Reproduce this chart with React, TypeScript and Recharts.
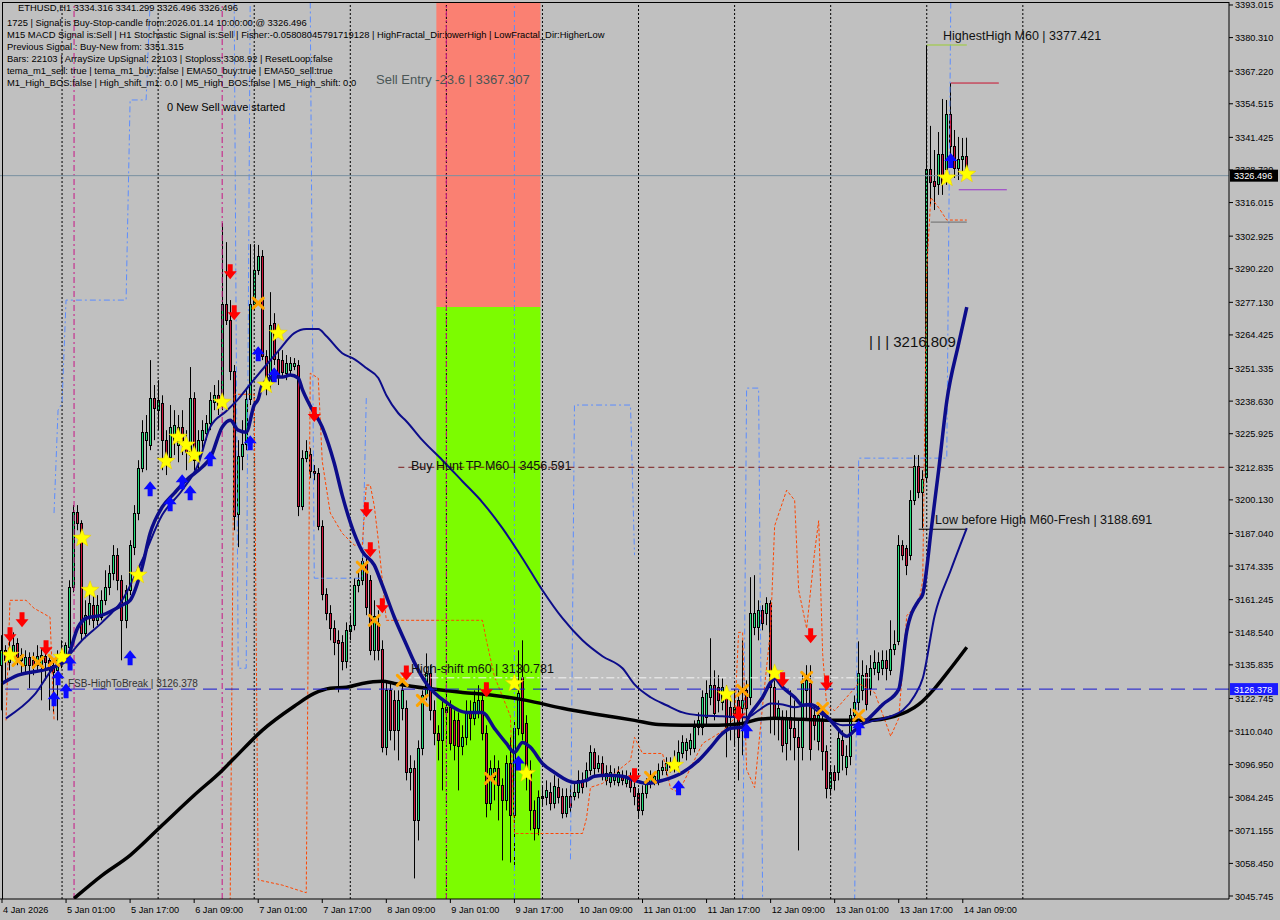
import React from 'react';
import { ComposedChart, Bar, Line, XAxis, YAxis, ReferenceLine, ReferenceArea } from 'recharts';

// hourly candles from 4 Jan 09:00 to 14 Jan 10:00, [open, high, low, close]
const candles: number[][] = [
  [3135.7,3147.4,3118.1,3141.5],[3141.5,3143.5,3129.8,3137.6],[3136.8,3145.4,3133.7,3140.7],[3140.7,3148.5,3137.6,3143.5],
  [3144.2,3146.2,3135.7,3138.8],[3137.6,3142.3,3131.8,3139.6],[3135.7,3141.5,3132.9,3138.8],[3138.8,3140.7,3126.7,3135.7],
  [3137.6,3140.7,3131.8,3134.9],[3135.7,3143.5,3133.7,3139.2],[3135.3,3142.3,3122.0,3139.6],[3139.2,3141.5,3129.8,3136.8],
  [3137.6,3139.6,3118.1,3134.5],[3135.7,3138.4,3117.3,3132.9],[3133.7,3141.5,3114.2,3138.4],[3137.6,3145.4,3134.5,3140.7],
  [3138.8,3144.6,3136.8,3143.5],[3142.7,3168.8,3141.5,3166.1],[3166.1,3198.1,3164.1,3195.3],[3195.3,3198.1,3188.3,3191.0],
  [3191.0,3192.2,3145.4,3148.1],[3148.1,3161.0,3146.2,3155.2],[3154.0,3164.9,3151.3,3159.8],[3159.1,3163.0,3150.1,3153.2],
  [3153.2,3163.0,3151.3,3159.1],[3154.4,3164.9,3153.2,3161.0],[3161.0,3172.7,3159.1,3166.1],[3166.1,3174.7,3163.0,3171.5],
  [3171.5,3182.5,3168.8,3178.6],[3178.6,3181.3,3164.9,3168.8],[3168.8,3170.8,3137.6,3153.2],[3153.2,3166.9,3150.1,3164.9],
  [3164.9,3184.4,3163.0,3182.5],[3181.7,3198.1,3178.6,3194.9],[3194.9,3215.6,3192.2,3212.5],[3212.5,3231.2,3210.9,3226.5],
  [3223.4,3233.2,3211.7,3226.5],[3221.5,3254.6,3219.5,3239.8],[3239.8,3244.9,3223.4,3235.9],[3235.1,3246.8,3227.3,3239.0],
  [3237.8,3240.9,3211.7,3223.4],[3223.4,3227.3,3209.8,3217.6],[3216.8,3237.1,3214.8,3228.5],[3223.4,3235.1,3217.6,3229.3],
  [3221.5,3233.2,3214.8,3228.5],[3228.5,3235.1,3217.6,3223.4],[3223.4,3227.3,3211.7,3218.7],[3217.6,3251.9,3215.6,3239.8],
  [3239.8,3242.1,3211.7,3215.6],[3215.6,3227.3,3211.7,3223.4],[3223.4,3231.2,3219.5,3227.3],[3226.1,3233.2,3223.4,3230.0],
  [3230.0,3242.1,3227.3,3239.0],[3238.2,3244.9,3235.1,3240.9],[3240.9,3246.8,3233.2,3237.1],[3236.7,3308.0,3235.1,3276.4],
  [3276.4,3300.6,3268.3,3270.2],[3270.2,3278.0,3246.8,3250.3],[3250.3,3252.7,3188.3,3193.8],[3194.5,3223.4,3181.7,3217.2],
  [3217.2,3231.2,3211.7,3221.8],[3221.8,3242.9,3219.5,3239.4],[3239.4,3299.8,3237.1,3276.4],[3276.4,3299.8,3274.1,3289.7],
  [3289.7,3299.5,3287.8,3295.2],[3295.2,3297.5,3254.6,3256.2],[3256.2,3258.5,3240.9,3246.0],[3246.0,3281.1,3242.9,3268.3],
  [3269.0,3272.9,3252.7,3255.0],[3255.0,3258.5,3244.9,3248.8],[3254.6,3258.5,3247.6,3249.9],[3249.5,3256.6,3246.8,3253.4],
  [3250.7,3255.8,3248.8,3253.4],[3252.3,3255.4,3250.7,3253.4],[3252.7,3254.6,3193.8,3197.7],[3197.7,3219.5,3196.1,3216.4],
  [3216.4,3223.4,3214.8,3219.1],[3217.9,3220.3,3208.6,3211.3],[3211.3,3213.7,3207.8,3210.5],[3210.5,3212.5,3188.3,3189.9],
  [3189.9,3192.2,3161.0,3163.3],[3163.3,3165.7,3153.2,3155.9],[3155.9,3159.1,3145.4,3150.1],[3150.1,3153.2,3139.6,3144.6],
  [3145.4,3149.3,3125.1,3144.2],[3144.6,3147.4,3133.7,3137.2],[3137.2,3152.4,3134.5,3149.3],[3148.9,3155.2,3145.4,3151.3],
  [3151.3,3169.6,3149.3,3166.9],[3166.9,3172.7,3164.1,3168.8],[3168.8,3180.1,3166.9,3176.2],[3175.0,3177.4,3155.2,3158.3],
  [3168.8,3170.8,3139.6,3141.5],[3141.5,3161.0,3137.6,3154.8],[3152.0,3157.1,3137.6,3141.5],[3141.9,3145.4,3101.7,3103.7],
  [3103.7,3129.8,3100.6,3125.9],[3125.9,3128.6,3106.4,3110.3],[3122.0,3125.9,3102.5,3110.3],[3110.3,3125.9,3098.6,3122.0],
  [3118.9,3129.8,3114.2,3125.9],[3118.9,3122.0,3090.8,3093.9],[3093.9,3100.6,3086.9,3095.5],[3095.5,3098.6,3052.6,3075.2],
  [3075.2,3106.4,3067.4,3103.3],[3103.3,3125.9,3100.6,3123.9],[3123.9,3140.3,3122.0,3132.5],[3132.5,3135.7,3114.2,3118.1],
  [3118.1,3122.0,3104.5,3109.1],[3109.1,3112.3,3098.6,3106.4],[3106.4,3122.0,3086.9,3118.9],[3117.3,3125.9,3106.4,3119.3],
  [3119.3,3122.0,3102.5,3105.2],[3114.2,3118.1,3098.6,3104.5],[3114.2,3117.3,3086.9,3104.1],[3104.1,3112.3,3100.6,3107.6],
  [3107.6,3122.0,3104.5,3117.3],[3117.3,3122.0,3106.4,3115.0],[3115.0,3125.9,3112.3,3121.2],[3117.3,3127.9,3115.0,3122.0],
  [3122.0,3124.7,3106.4,3109.1],[3109.1,3112.3,3076.4,3081.8],[3081.8,3098.6,3079.1,3095.5],[3092.0,3100.6,3083.0,3095.5],
  [3095.5,3098.6,3075.2,3088.9],[3088.9,3091.6,3059.6,3083.0],[3083.0,3100.6,3079.1,3097.4],[3097.4,3107.6,3058.8,3077.2],
  [3077.2,3114.2,3056.9,3111.1],[3111.1,3141.5,3108.4,3124.7],[3131.0,3145.4,3106.4,3109.1],[3113.0,3116.2,3086.9,3094.7],
  [3094.7,3098.6,3071.3,3079.1],[3079.1,3083.0,3067.4,3072.1],[3072.1,3086.9,3069.4,3084.2],[3083.8,3088.9,3081.1,3084.9],
  [3084.2,3090.8,3081.1,3086.9],[3086.1,3090.0,3079.1,3081.8],[3081.8,3092.8,3079.9,3088.5],[3088.1,3091.6,3081.8,3084.2],
  [3084.9,3087.7,3076.0,3077.9],[3077.9,3087.7,3076.4,3084.9],[3084.9,3088.9,3078.3,3080.3],[3084.9,3090.0,3083.0,3086.1],
  [3086.1,3094.7,3083.8,3090.8],[3090.8,3093.9,3085.7,3088.1],[3090.8,3097.8,3088.1,3094.7],[3094.7,3104.5,3092.8,3101.7],
  [3101.7,3103.3,3092.8,3095.5],[3095.5,3100.6,3093.9,3097.4],[3097.4,3100.2,3090.8,3092.8],[3090.8,3096.7,3088.9,3093.5],
  [3090.0,3096.7,3088.1,3093.9],[3090.8,3095.5,3088.9,3093.1],[3090.0,3096.3,3088.5,3093.9],[3092.8,3094.7,3088.9,3090.8],
  [3089.6,3094.7,3088.1,3092.0],[3091.6,3093.9,3086.1,3088.1],[3088.1,3090.8,3081.1,3084.9],[3085.7,3087.7,3076.4,3079.1],
  [3079.1,3088.9,3077.2,3085.7],[3085.7,3091.6,3083.8,3089.6],[3089.6,3094.7,3087.7,3092.8],[3090.8,3093.9,3088.9,3092.4],
  [3090.8,3097.4,3088.9,3094.7],[3094.7,3098.6,3092.8,3095.9],[3094.7,3099.8,3092.8,3097.4],[3097.8,3099.8,3093.9,3095.9],
  [3095.9,3102.5,3093.9,3098.6],[3097.8,3106.4,3095.5,3101.7],[3101.3,3108.4,3099.4,3105.6],[3102.5,3107.2,3098.6,3105.6],
  [3103.3,3109.1,3100.6,3106.4],[3103.3,3114.2,3101.7,3111.5],[3111.5,3117.3,3108.4,3114.2],[3111.5,3125.9,3108.4,3123.2],
  [3115.4,3129.8,3112.3,3124.7],[3123.2,3146.2,3120.1,3127.9],[3127.9,3133.7,3114.2,3116.9],[3127.1,3131.8,3117.3,3122.0],
  [3121.2,3130.6,3118.1,3127.1],[3124.7,3127.9,3099.8,3111.5],[3119.3,3123.9,3106.4,3115.4],[3115.4,3125.9,3104.5,3119.3],
  [3122.0,3125.9,3090.8,3107.6],[3118.9,3145.4,3100.6,3122.0],[3125.9,3129.8,3114.2,3118.9],[3123.2,3170.0,3120.1,3155.9],
  [3150.5,3170.8,3147.4,3155.9],[3150.5,3161.0,3145.4,3157.1],[3157.1,3159.1,3149.3,3152.0],[3155.9,3162.2,3151.3,3159.8],
  [3159.8,3161.0,3109.1,3127.1],[3127.1,3129.8,3108.4,3115.0],[3115.0,3122.0,3106.4,3118.9],[3115.0,3118.1,3101.7,3104.5],
  [3105.2,3118.1,3098.6,3115.4],[3115.4,3125.9,3102.5,3111.1],[3111.1,3122.0,3098.6,3107.6],[3107.6,3114.2,3063.5,3103.7],
  [3103.7,3131.8,3098.6,3128.6],[3125.9,3135.7,3114.2,3129.8],[3128.6,3135.7,3098.6,3102.9],[3116.2,3120.1,3106.4,3112.3],
  [3106.0,3120.1,3102.5,3116.2],[3114.2,3117.3,3094.7,3102.1],[3102.1,3104.5,3083.8,3087.7],[3087.7,3096.7,3084.9,3093.9],
  [3093.9,3096.7,3086.9,3090.8],[3093.9,3110.3,3090.8,3107.2],[3106.4,3110.3,3094.7,3100.6],[3095.9,3104.5,3092.8,3100.2],
  [3100.2,3118.9,3096.7,3116.2],[3116.2,3123.9,3114.2,3121.2],[3121.2,3145.0,3118.1,3132.5],[3125.9,3137.6,3122.0,3131.8],
  [3132.5,3135.7,3118.1,3120.4],[3126.7,3139.6,3123.9,3134.5],[3134.5,3141.5,3131.8,3136.8],[3132.9,3140.7,3129.8,3136.8],
  [3134.5,3141.5,3131.8,3137.6],[3137.6,3141.5,3129.8,3134.5],[3133.7,3153.2,3131.8,3141.9],[3141.9,3149.3,3139.6,3143.8],
  [3145.0,3186.4,3143.5,3182.5],[3182.5,3184.4,3176.6,3178.6],[3181.3,3182.5,3170.8,3174.7],[3178.6,3203.9,3176.6,3200.0],
  [3200.0,3217.6,3198.1,3213.3],[3213.3,3217.6,3200.8,3203.1],[3203.1,3211.7,3189.1,3208.2],[3209.0,3377.4,3207.0,3329.1],
  [3329.1,3345.9,3315.1,3324.0],[3324.4,3336.5,3313.1,3322.5],[3323.2,3343.5,3319.0,3334.9],[3334.9,3356.4,3319.0,3323.6],
  [3329.1,3356.0,3322.9,3350.5],[3350.5,3362.6,3332.6,3338.1],[3338.1,3344.3,3325.6,3329.5],[3329.5,3341.6,3324.8,3333.0],
  [3333.0,3341.2,3326.8,3334.2],[3334.316,3341.299,3326.496,3326.496],
];

// moving averages, [bar index, value]
const fastMa = [
  [0,3128.6],[4,3131.8],[10,3133.7],[12,3134.5],[16,3137.6],[19,3150.5],[21,3154.0],[25,3155.2],[30,3159.1],[32,3161.0],
  [35,3173.9],[37,3187.1],[40,3197.3],[43,3202.7],[46,3207.8],[50,3212.9],[52,3216.4],[55,3228.5],[57,3231.2],[59,3227.3],
  [61,3226.5],[63,3237.1],[64,3239.4],[65,3244.9],[68,3248.0],[70,3248.0],[72,3248.8],[74,3247.6],[75,3243.3],[77,3236.7],
  [80,3228.5],[83,3214.4],[85,3201.9],[88,3187.0],[90,3180.1],[93,3174.7],[95,3166.9],[98,3154.4],[101,3143.8],[103,3136.8],
  [106,3128.6],[111,3121.2],[116,3117.3],[120,3117.3],[123,3111.1],[126,3105.2],[128,3101.7],[130,3105.6],[132,3103.7],
  [135,3097.4],[138,3093.9],[143,3090.0],[146,3090.8],[148,3092.4],[151,3092.8],[155,3092.4],[158,3090.8],[161,3089.6],
  [165,3090.8],[170,3093.9],[174,3098.6],[177,3103.7],[180,3109.1],[182,3111.1],[185,3111.5],[187,3116.9],[190,3123.2],
  [192,3129.0],[193,3130.6],[195,3127.1],[198,3123.2],[200,3120.1],[202,3120.4],[205,3117.3],[208,3112.3],[211,3108.0],
  [213,3110.3],[216,3114.2],[220,3120.4],[224,3126.3],[226,3148.9],[229,3161.0],[230,3163.3],[231,3173.5],[232,3187.1],
  [234,3212.1],[236,3238.6],[239,3261.2],[241,3275.3],
];
const midMa = [
  [1,3115.0],[8,3124.0],[13,3134.9],[16,3138.4],[20,3145.4],[25,3152.4],[30,3161.0],[35,3176.6],[40,3194.2],[45,3203.9],
  [49,3214.0],[52,3228.5],[56,3234.7],[59,3239.4],[62,3245.2],[66,3252.7],[69,3258.1],[73,3265.1],[76,3266.7],[79,3266.7],
  [81,3264.0],[85,3257.3],[88,3255.0],[91,3251.5],[94,3247.6],[96,3240.9],[99,3233.9],[101,3230.8],[105,3223.4],[110,3215.6],
  [115,3207.4],[120,3199.2],[125,3189.1],[130,3177.4],[135,3164.9],[140,3154.0],[145,3145.4],[150,3139.2],[155,3134.5],
  [158,3128.2],[162,3123.2],[166,3120.1],[170,3117.3],[174,3116.2],[180,3115.8],[186,3115.4],[189,3118.1],[192,3120.8],
  [195,3120.4],[198,3119.3],[201,3120.1],[205,3116.2],[210,3112.3],[214,3112.6],[218,3114.2],[222,3115.8],[225,3118.1],
  [228,3123.9],[230,3130.6],[233,3155.2],[237,3172.7],[241,3189.1],
];
const slowMa = [
  [18,3044.8],[25,3053.8],[32,3061.6],[40,3073.3],[48,3085.0],[55,3094.7],[58,3099.4],[65,3110.3],[73,3119.7],[78,3124.7],
  [82,3126.7],[86,3127.1],[90,3128.6],[95,3129.4],[98,3128.6],[106,3126.7],[115,3125.1],[123,3123.9],[131,3122.0],
  [140,3118.9],[150,3116.2],[158,3114.2],[164,3112.6],[170,3112.3],[179,3112.3],[185,3113.0],[189,3114.6],[193,3115.0],
  [200,3114.6],[208,3114.2],[216,3114.2],[223,3115.8],[229,3120.4],[233,3126.7],[237,3134.5],[241,3142.7],
];

// trailing channel (orange dashed) and fractal channel (blue dash-dot) pieces, [bar index, value]
const trailA = [[1,3114.2],[2,3161.0],[6,3161.0],[8,3157.9],[12,3154.4],[13,3114.2]];
const trailB = [
  [57,3044.0],[58,3241.3],[63,3241.3],[64,3052.0],[70,3050.0],[76,3047.0],[77,3249.5],[79,3247.6],[80,3215.2],[82,3195.0],
  [85,3187.1],[88,3182.5],[90,3182.5],[91,3205.9],[92,3205.9],[93,3197.7],[94,3184.4],[96,3153.2],[120,3153.2],[121,3145.4],
  [123,3131.4],[127,3115.8],[128,3070.1],[145,3070.1],[146,3076.0],[147,3088.1],[150,3089.6],[157,3098.6],[158,3107.6],
  [160,3101.3],[165,3101.3],[167,3087.7],[169,3086.1],[175,3105.2],[180,3110.0],[183,3115.0],[184,3148.5],[185,3148.5],
  [186,3095.0],[188,3088.0],[190,3120.0],[192,3150.0],[193,3190.0],[196,3203.9],[198,3200.0],[199,3165.0],[201,3150.0],
  [203,3180.0],[204,3192.0],[205,3140.0],[206,3120.0],[208,3118.0],[212,3125.0],[214,3128.6],[218,3125.0],[222,3108.0],
  [224,3115.0],[226,3155.0],[229,3160.0],[230,3168.8],[231,3290.0],[232,3318.0],[234,3314.0],[236,3309.2],[241,3309.2],
];
const fractalA = [[13,3195.0],[14,3235.1],[15,3237.8],[16,3278.0],[31,3278.0],[32,3356.0],[36,3356.0],[37,3394.0]];
const fractalB = [[58,3394.0],[59,3134.5],[61,3134.5],[62,3394.0]];
const fractalC = [[77,3394.0],[78,3169.6],[90,3169.6],[91,3240.0]];
const fractalD = [[142,3060.0],[143,3237.1],[157,3237.1],[158,3178.6]];
const fractalE = [[185,3044.0],[186,3243.7],[189,3243.7],[190,3044.0]];
const fractalF = [[213,3044.0],[214,3216.4],[236,3216.4],[237,3394.0]];

// signal markers, [bar index, price]
const sellArrows = [
  [2,3147.4],[5,3153.2],[11,3142.3],[57,3288.9],[58,3272.9],[78,3233.2],[91,3196.1],[92,3180.5],[95,3158.7],[101,3132.5],
  [121,3125.9],[158,3092.4],[184,3116.5],[195,3129.8],[202,3147.0],[206,3128.6],
];
const buyArrows = [
  [13,3122.8],[14,3131.0],[16,3125.9],[17,3136.8],[32,3138.8],[37,3204.7],[42,3198.8],[45,3207.4],[47,3203.1],[52,3216.4],
  [62,3222.6],[64,3257.3],[68,3249.1],[129,3097.8],[169,3088.1],[186,3110.3],[214,3111.5],[237,3332.6],
];
const stars = [
  [2,3139.6],[15,3138.8],[20,3185.2],[22,3164.9],[34,3170.8],[41,3215.2],[44,3224.6],[46,3221.5],[48,3217.6],[55,3238.2],
  [66,3244.9],[69,3265.1],[128,3128.6],[131,3093.5],[168,3096.7],[181,3124.3],[193,3132.5],[236,3325.6],[241,3327.1],
];
const crosses = [
  [4,3137.6],[9,3136.8],[13,3137.6],[64,3276.8],[90,3173.9],[93,3153.2],[100,3129.8],[105,3122.0],[122,3091.6],
  [162,3092.0],[185,3125.9],[201,3131.0],[205,3118.9],[214,3116.2],
];

const timeLabels = [
  '4 Jan 2026', '5 Jan 01:00', '5 Jan 17:00', '6 Jan 09:00', '7 Jan 01:00', '7 Jan 17:00', '8 Jan 09:00', '9 Jan 01:00',
  '9 Jan 17:00', '10 Jan 09:00', '11 Jan 01:00', '11 Jan 17:00', '12 Jan 09:00', '13 Jan 01:00', '13 Jan 17:00', '14 Jan 09:00',
];
const priceTicks = [
  3393.015, 3380.31, 3367.22, 3354.515, 3341.425, 3328.72, 3316.015, 3302.925, 3290.22, 3277.13, 3264.425, 3251.335,
  3238.63, 3225.925, 3212.835, 3200.13, 3187.04, 3174.335, 3161.245, 3148.54, 3135.835, 3122.745, 3110.04, 3096.95,
  3084.245, 3071.155, 3058.45, 3045.745,
];
const daySeparators = [15, 39, 63, 87, 111, 135, 159, 183, 207, 231, 255];
const magentaLines = [18, 55, 111];

const SLOTS = 307;
const Y_MIN = 3044.576;
const Y_MAX = 3394.184;
const BULL = '#22dd7a';
const BEAR = '#d0123a';
const ORANGE = '#ff4500';
const SKY = '#5b8cff';

const rows: any[] = Array.from({ length: SLOTS }, (_, i) => {
  const k = candles[i];
  return k
    ? { i, o: k[0], h: k[1], l: k[2], c: k[3], range: [k[2], k[1]] }
    : { i, range: null };
});
const put = (list: number[][], key: string) => list.forEach(([i, v]) => { rows[i][key] = v; });
put(fastMa, 'fast');
put(midMa, 'mid');
put(slowMa, 'slow');
put(sellArrows, 'sell');
put(buyArrows, 'buy');
put(stars, 'star');
put(crosses, 'cross');
const trails: [string, number[][]][] = [['trA', trailA], ['trB', trailB]];
const fractals: [string, number[][]][] = [
  ['frA', fractalA], ['frB', fractalB], ['frC', fractalC], ['frD', fractalD], ['frE', fractalE], ['frF', fractalF],
];
trails.forEach(([k, list]) => put(list, k));
fractals.forEach(([k, list]) => put(list, k));

function Candle(props: any) {
  const { x, y, width, height, payload } = props;
  if (!payload || payload.o == null) return <g />;
  const { o, h, l, c } = payload;
  const top = Math.min(y, y + height);
  const span = Math.abs(height);
  const k = span / (h - l || 1);
  const px = Math.floor(x + width / 2);
  const yo = top + (h - o) * k;
  const yc = top + (h - c) * k;
  const bTop = Math.round(Math.min(yo, yc)) + 0.5;
  const bBot = Math.round(Math.max(yo, yc)) + 0.5;
  return (
    <g>
      <line x1={px + 0.5} x2={px + 0.5} y1={top} y2={top + span} stroke="#000" strokeWidth={1} />
      <rect x={px - 0.5} y={bTop} width={2} height={Math.max(bBot - bTop, 1)}
        fill={c >= o ? BULL : BEAR} stroke="#000" strokeWidth={1} />
    </g>
  );
}

const starPath = (cx: number, cy: number) => {
  const pts: string[] = [];
  for (let n = 0; n < 10; n++) {
    const r = n % 2 === 0 ? 9.5 : 4;
    const a = -Math.PI / 2 + (n * Math.PI) / 5;
    pts.push(`${(cx + r * Math.cos(a)).toFixed(1)},${(cy + r * Math.sin(a)).toFixed(1)}`);
  }
  return 'M' + pts.join('L') + 'Z';
};

const marker = (kind: string) => (props: any) => {
  const { cx, cy, payload, index } = props;
  const key = `${kind}-${index}`;
  if (!payload || payload[kind] == null || cx == null || cy == null) return <g key={key} />;
  if (kind === 'sell') {
    return (
      <path key={key} fill="#ff0000"
        d={`M${cx - 2.5},${cy - 8}L${cx + 2.5},${cy - 8}L${cx + 2.5},${cy - 1}L${cx + 6.5},${cy - 1}L${cx},${cy + 7}L${cx - 6.5},${cy - 1}L${cx - 2.5},${cy - 1}Z`} />
    );
  }
  if (kind === 'buy') {
    return (
      <path key={key} fill="#0a0aff"
        d={`M${cx - 2.5},${cy + 8}L${cx + 2.5},${cy + 8}L${cx + 2.5},${cy + 1}L${cx + 6.5},${cy + 1}L${cx},${cy - 7}L${cx - 6.5},${cy + 1}L${cx - 2.5},${cy + 1}Z`} />
    );
  }
  if (kind === 'star') {
    return <path key={key} d={starPath(cx, cy)} fill="#ffff00" stroke="#e8c800" strokeWidth={0.5} />;
  }
  return (
    <g key={key} stroke="#ffa500" strokeWidth={3} strokeLinecap="round">
      <line x1={cx - 5} y1={cy - 5} x2={cx + 5} y2={cy + 5} />
      <line x1={cx - 5} y1={cy + 5} x2={cx + 5} y2={cy - 5} />
    </g>
  );
};

const TimeTick = (props: any) => {
  const { x, y, payload } = props;
  const label = timeLabels[Math.round(payload.value / 16)];
  return (
    <g>
      <line x1={x} x2={x} y1={y} y2={y + 4} stroke="#000" />
      <text x={x + 1} y={y + 14} fontSize={9.2} fill="#000" textAnchor="start">{label}</text>
    </g>
  );
};

const PriceTick = (props: any) => {
  const { x, y, payload } = props;
  return (
    <text x={x} y={y + 3.5} fontSize={9.2} fill="#000" textAnchor="start">{payload.value.toFixed(3)}</text>
  );
};

const priceBox = (text: string, bg: string) => (props: any) => {
  const vb = props.viewBox || {};
  const x = vb.x + vb.width + 1;
  return (
    <g>
      <rect x={x} y={vb.y - 6} width={48} height={12} fill={bg} />
      <text x={x + 4} y={vb.y + 3.5} fontSize={9.2} fill="#fff">{text}</text>
    </g>
  );
};

const header = [
  '1725 | Signal is Buy-Stop-candle from:2026.01.14 10:00:00 @ 3326.496',
  'M15 MACD Signal is:Sell | H1 Stochastic Signal is:Sell | Fisher:-0.05808045791719128 | HighFractal_Dir:lowerHigh | LowFractal_Dir:HigherLow',
  'Previous Signal : Buy-New from: 3351.315',
  'Bars: 22103 | ArraySize UpSignal: 22103 | Stoploss:3308.92 | ResetLoop:false',
  'tema_m1_sell: true | tema_m1_buy: false | EMA50_buy:true | EMA50_sell:true',
  'M1_High_BOS:false | High_shift_m1: 0.0 | M5_High_BOS:false | M5_High_shift: 0.0',
];

export default function App() {
  return (
    <div style={{ position: 'absolute', left: 0, top: 0, width: 1280, height: 920, background: '#c0c0c0',
      fontFamily: '"Liberation Sans", Arial, sans-serif' }}>
      <ComposedChart width={1280} height={920} data={rows} margin={{ top: 2, right: 0, bottom: 0, left: 0 }}>
        <XAxis dataKey="i" type="category" ticks={timeLabels.map((_, n) => n * 16)} interval={0} height={21}
          axisLine={{ stroke: '#000' }} tickLine={false} tickSize={0} tickMargin={0} tick={<TimeTick />} />
        <YAxis orientation="right" type="number" domain={[Y_MIN, Y_MAX]} allowDataOverflow ticks={priceTicks}
          interval={0} width={51} axisLine={{ stroke: '#000' }} tickLine={{ stroke: '#000' }} tickSize={4}
          tickMargin={2} tick={<PriceTick />} />

        <ReferenceArea x1={109} x2={134} y1={3275.3} y2={Y_MAX} fill="#fa8072" fillOpacity={1} stroke="none" />
        <ReferenceArea x1={109} x2={134} y1={Y_MIN} y2={3275.3} fill="#7cfc00" fillOpacity={1} stroke="none" />

        {daySeparators.map((d) => (
          <ReferenceLine key={`d${d}`} x={d} stroke="#000" strokeDasharray="2 2" />
        ))}
        {magentaLines.map((d) => (
          <ReferenceLine key={`m${d}`} x={d} stroke="#c71585" strokeDasharray="6 3 2 3" />
        ))}
        <ReferenceLine x={128} stroke={SKY} strokeDasharray="6 3 2 3" />

        {fractals.map(([k]) => (
          <Line key={k} dataKey={k} type="linear" stroke={SKY} strokeWidth={1} strokeDasharray="6 3 2 3"
            dot={false} activeDot={false} connectNulls isAnimationActive={false} />
        ))}
        {trails.map(([k]) => (
          <Line key={k} dataKey={k} type="linear" stroke={ORANGE} strokeWidth={1} strokeDasharray="3 2"
            dot={false} activeDot={false} connectNulls isAnimationActive={false} />
        ))}

        <ReferenceLine segment={[{ x: 99, y: 3212.835 }, { x: 306, y: 3212.835 }]} stroke="#7a1a1a" strokeDasharray="6 4" />
        <ReferenceLine segment={[{ x: 99, y: 3130.781 }, { x: 217, y: 3130.781 }]} stroke="#f4f4f4" strokeDasharray="8 3 2 3" />
        <ReferenceLine segment={[{ x: 231, y: 3377.421 }, { x: 241, y: 3377.421 }]} stroke="#9acd32" />
        <ReferenceLine segment={[{ x: 237, y: 3362.6 }, { x: 249, y: 3362.6 }]} stroke="#c8102e" />
        <ReferenceLine segment={[{ x: 239, y: 3321.0 }, { x: 251, y: 3321.0 }]} stroke="#9932cc" />
        <ReferenceLine segment={[{ x: 232, y: 3308.4 }, { x: 241, y: 3308.4 }]} stroke="#6b6b6b" />
        <ReferenceLine segment={[{ x: 229, y: 3188.691 }, { x: 241, y: 3188.691 }]} stroke="#000" />

        <Bar dataKey="range" shape={<Candle />} isAnimationActive={false} />

        <Line dataKey="slow" type="monotone" stroke="#000" strokeWidth={3.5} dot={false} activeDot={false} connectNulls isAnimationActive={false} />
        <Line dataKey="mid" type="monotone" stroke="#0c0c8a" strokeWidth={2} dot={false} activeDot={false} connectNulls isAnimationActive={false} />
        <Line dataKey="fast" type="monotone" stroke="#0c0c8a" strokeWidth={3.5} dot={false} activeDot={false} connectNulls isAnimationActive={false} />

        <ReferenceLine y={3326.496} stroke="#7890a0" label={priceBox('3326.496', '#000')} />
        <ReferenceLine y={3126.378} stroke="#1414d0" strokeDasharray="14 8" label={priceBox('3126.378', '#1a1aff')} />

        <Line dataKey="cross" stroke="none" dot={marker('cross')} activeDot={false} isAnimationActive={false} />
        <Line dataKey="star" stroke="none" dot={marker('star')} activeDot={false} isAnimationActive={false} />
        <Line dataKey="sell" stroke="none" dot={marker('sell')} activeDot={false} isAnimationActive={false} />
        <Line dataKey="buy" stroke="none" dot={marker('buy')} activeDot={false} isAnimationActive={false} />
      </ComposedChart>

      <svg width={1280} height={920} style={{ position: 'absolute', left: 0, top: 0, pointerEvents: 'none' }}>
        <line x1={2} y1={2.5} x2={1229} y2={2.5} stroke="#000" />
        <line x1={2.5} y1={2} x2={2.5} y2={899} stroke="#000" />
        <g fontSize={9.4} fill="#000" style={{ whiteSpace: 'pre' }}>
          <text x={18} y={11}>{'ETHUSD,H1  3334.316 3341.299 3326.496 3326.496'}</text>
          {header.map((t, n) => (
            <text key={n} x={7} y={26 + n * 12}>{t}</text>
          ))}
        </g>
        <g style={{ whiteSpace: 'pre' }}>
          <text x={167} y={111} fontSize={11} fill="#000">0 New Sell wave started</text>
          <text x={376} y={84} fontSize={13} fill="#4a5656">Sell Entry -23.6 | 3367.307</text>
          <text x={943} y={40} fontSize={12.5} fill="#111">{'HighestHigh    M60 | 3377.421'}</text>
          <text x={869} y={347} fontSize={15} fill="#111">{'| | | 3216.809'}</text>
          <text x={411} y={470} fontSize={12.5} fill="#111">Buy Hunt TP M60 | 3456.591</text>
          <text x={935} y={524} fontSize={12.5} fill="#111">{'Low before High    M60-Fresh | 3188.691'}</text>
          <text x={411} y={673} fontSize={12.5} fill="#111">High-shift m60 | 3130.781</text>
          <text x={68} y={687} fontSize={10} fill="#333">{'FSB-HighToBreak  | 3126.378'}</text>
        </g>
      </svg>
    </div>
  );
}
